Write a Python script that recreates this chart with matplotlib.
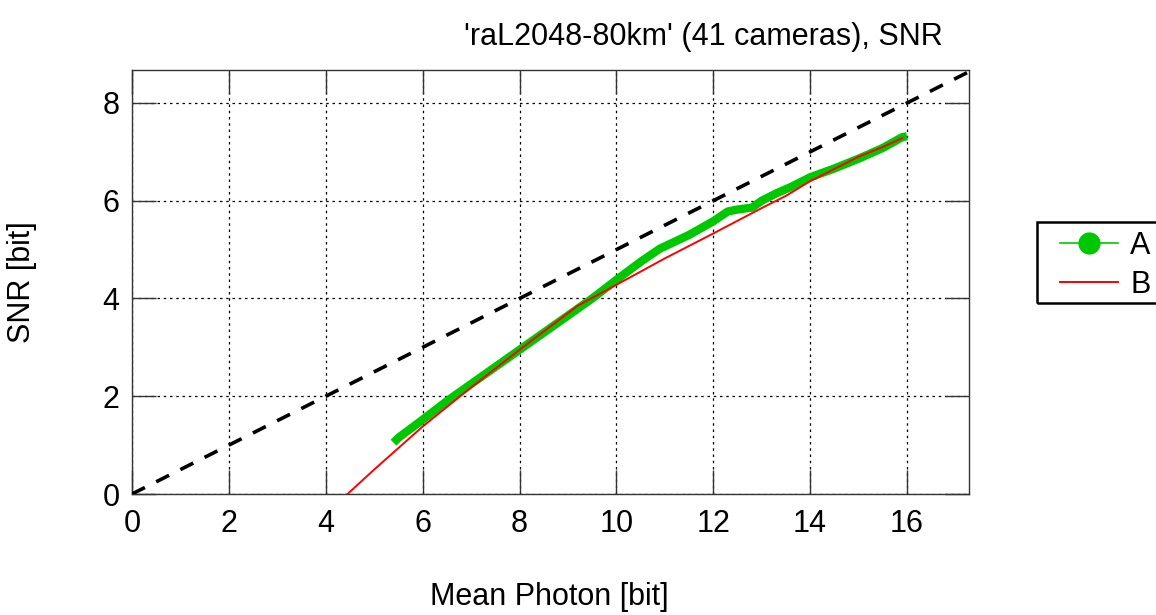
import numpy as np
import matplotlib
matplotlib.use('Agg')
import matplotlib.pyplot as plt
from matplotlib.lines import Line2D
from matplotlib.patches import Rectangle

plt.rcParams['font.family'] = ['Liberation Sans', 'DejaVu Sans']

# ── data ─────────────────────────────────────────────────────────────────────
a_x = [5.4, 5.5, 6.0, 6.5, 7.0, 7.5, 8.0, 8.5, 9.0, 9.5, 10.0, 10.5, 10.9,
       11.5, 12.0, 12.3, 12.5, 12.8, 13.0, 13.3, 13.6, 14.0, 14.5, 15.0,
       15.5, 15.9, 16.0]
a_y = [1.05, 1.15, 1.52, 1.9, 2.25, 2.6, 2.95, 3.3, 3.65, 4.0, 4.38, 4.75,
       5.02, 5.3, 5.58, 5.78, 5.82, 5.86, 6.0, 6.15, 6.28, 6.48, 6.66, 6.86,
       7.08, 7.3, 7.32]

b_x = [4.45, 5.0, 6.0, 7.0, 8.0, 9.2, 10.0, 11.0, 12.0, 13.0, 13.5, 14.0,
       14.5, 15.0, 15.5, 15.9]
b_y = [0.0, 0.5, 1.38, 2.18, 2.95, 3.85, 4.28, 4.82, 5.33, 5.85, 6.1, 6.4,
       6.65, 6.9, 7.1, 7.28]

# reference line SNR = photon / 2
ref_x = [0, 17.3]
ref_y = [0, 8.65]

x_ticks = [0, 2, 4, 6, 8, 10, 12, 14, 16]
y_ticks = [0, 2, 4, 6, 8]

GREEN = '#00c800'
FS = 22
W, H = 1156, 615

fig = plt.figure(figsize=(11.56, 6.15), dpi=100)
ax = fig.add_axes([132 / W, 1 - 494 / H, 837 / W, 424 / H])

ax.plot(ref_x, ref_y, '--', color='black', lw=2.6, dashes=(4, 3.5), zorder=3)
ax.plot(a_x, a_y, '-', color=GREEN, lw=6, solid_capstyle='butt',
        solid_joinstyle='round', zorder=4)
ax.plot(b_x, b_y, '-', color='red', lw=1.4, zorder=5)

ax.set_xlim(0, 17.28)
ax.set_ylim(0, 8.675)
ax.set_xticks(x_ticks)
ax.set_yticks(y_ticks)
ax.tick_params(direction='in', length=17, width=1, color='#333333',
               top=True, right=True, labelsize=FS, pad=9)
ax.tick_params(axis='x', pad=11)
ax.grid(True, ls=(0, (2, 3)), lw=0.9, color='black')
for s in ax.spines.values():
    s.set_color('#333333')
    s.set_linewidth(1)

fig.text(703 / W, 1 - 37 / H, "'raL2048-80km' (41 cameras), SNR",
         ha='center', va='center', fontsize=FS)
fig.text(549 / W, 1 - 597 / H, 'Mean Photon [bit]',
         ha='center', va='center', fontsize=FS)
fig.text(22 / W, 1 - 282 / H, 'SNR [bit]', rotation=90,
         ha='center', va='center', fontsize=FS)

# legend: entries without frame, box drawn separately (runs off the right edge)
handles = [Line2D([], [], color=GREEN, lw=1.2, marker='o', markersize=15),
           Line2D([], [], color='red', lw=1.4)]
fig.legend(handles, ['A', 'B'], loc='upper left',
           bbox_to_anchor=(1060 / W, 1 - 231 / H),
           fontsize=FS, frameon=False, handlelength=1.9, borderpad=0,
           labelspacing=0.3, handletextpad=0.4, borderaxespad=0)
fig.patches.append(Rectangle((1037 / W, 1 - 303 / H), 130 / W, 81 / H,
                             transform=fig.transFigure, fill=False,
                             edgecolor='black', lw=1.8))

fig.savefig('out.png', dpi=100)
